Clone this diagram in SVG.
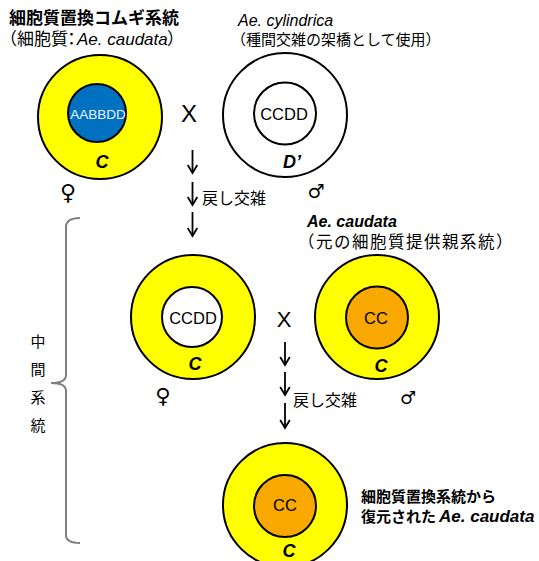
<svg xmlns="http://www.w3.org/2000/svg" width="539" height="561" viewBox="0 0 539 561">
<defs>
<style>
.bg{fill:#ffffff}
.outer{stroke:#000;stroke-width:2}
.y{fill:#ffff00}
.w{fill:#ffffff}
.blue{fill:#0070c0}
.org{fill:#f9a800}
.inner{stroke:#000;stroke-width:2}
.jp{font-family:"Noto Sans CJK JP","Liberation Sans",sans-serif;fill:#000}
.lat{font-family:"Liberation Sans","Noto Sans CJK JP",sans-serif;fill:#000}
.it{font-style:italic}
.b{font-weight:bold}
.geno{font-family:"Liberation Sans",sans-serif;font-size:16.5px;text-anchor:middle;fill:#000}
.cyto{font-family:"Liberation Sans",sans-serif;font-size:18px;font-style:italic;font-weight:bold;text-anchor:middle;fill:#000}
.sex{font-family:"DejaVu Sans",sans-serif;font-weight:bold;text-anchor:middle;fill:#000}
.cross{font-family:"Liberation Sans",sans-serif;text-anchor:middle;fill:#000}
.arrow{stroke:#000;stroke-width:1.8;fill:none}
.brace{stroke:#808080;stroke-width:2;fill:none}
</style>
<marker id="ah" markerUnits="userSpaceOnUse" markerWidth="12" markerHeight="12" viewBox="-9 -6 11 12" refX="0" refY="0" orient="auto">
<path d="M-8,-4.8 L0,0 L-8,4.8" fill="none" stroke="#000" stroke-width="1.8"/>
</marker>
</defs>
<rect class="bg" x="0" y="0" width="539" height="561"/>

<g id="title-left">
<text class="jp b" x="9" y="24" font-size="17">細胞質置換コムギ系統</text>
<text class="jp" y="45" font-size="17"><tspan x="0">（細胞質</tspan><tspan x="63">：</tspan><tspan class="lat it" x="77">Ae. caudata</tspan><tspan x="167">）</tspan></text>
</g>

<g id="title-right">
<text class="lat it" x="238" y="26" font-size="16">Ae. cylindrica</text>
<text class="jp" x="231" y="45" font-size="15">（種間交雑の架橋として使用）</text>
</g>

<g id="node-wheat">
<circle class="outer y" cx="100" cy="117" r="62"/>
<circle class="inner blue" cx="97" cy="113" r="29"/>
<text x="98" y="119" font-family="Liberation Sans,sans-serif" font-size="13.5" fill="#eaf4ff" text-anchor="middle">AABBDD</text>
<text class="cyto" x="102" y="167.5">C</text>
<text class="sex" x="68" y="200" font-size="22">♀</text>
</g>

<g id="cross-1">
<text class="cross" x="189" y="122" font-size="24">X</text>
</g>

<g id="node-cylindrica">
<circle class="outer w" cx="285" cy="115" r="62"/>
<circle class="inner w" cx="285" cy="113.5" r="31"/>
<text class="geno" x="284" y="119.5">CCDD</text>
<text class="cyto" x="292" y="168">D’</text>
<text class="sex" x="316" y="198" font-size="19">♂</text>
</g>

<g id="label-caudata">
<text class="lat it b" x="307" y="227" font-size="16">Ae. caudata</text>
<text class="jp" x="298" y="248" font-size="16.5" letter-spacing="1.5">（元の細胞質提供親系統）</text>
</g>

<g id="node-intermediate">
<circle class="outer y" cx="193" cy="317" r="62"/>
<circle class="inner w" cx="192" cy="317" r="30"/>
<text class="geno" x="193" y="324">CCDD</text>
<text class="cyto" x="195" y="369.5">C</text>
<text class="sex" x="163" y="403" font-size="21">♀</text>
</g>

<g id="cross-2">
<text class="cross" x="284" y="327" font-size="22">X</text>
</g>

<g id="node-caudata">
<circle class="outer y" cx="377" cy="317" r="62"/>
<circle class="inner org" cx="377" cy="317.5" r="31"/>
<text class="geno" x="376" y="324" font-size="17">CC</text>
<text class="cyto" x="381" y="371.5">C</text>
<text class="sex" x="408" y="404" font-size="18">♂</text>
</g>

<g id="node-restored">
<circle class="outer y" cx="285" cy="505" r="62"/>
<circle class="inner org" cx="285" cy="506" r="31"/>
<text class="geno" x="285" y="511" font-size="17">CC</text>
<text class="cyto" x="289" y="557">C</text>
</g>

<g id="label-restored">
<text class="jp b" x="361" y="502" font-size="15">細胞質置換系統から</text>
<text class="jp b" y="522" font-size="15"><tspan x="361">復元された</tspan><tspan class="lat it" x="439" font-size="17">Ae. caudata</tspan></text>
</g>

<g id="group-intermediate">
<path class="brace" d="M80,218 Q66,218 66,227 L66,375 Q66,383 51,383 Q66,383 66,391 L66,535 Q66,543 80,543"/>
<text class="jp" x="38" y="346.5" font-size="15" text-anchor="middle" fill="#333">中</text>
<text class="jp" x="38" y="374.5" font-size="15" text-anchor="middle" fill="#333">間</text>
<text class="jp" x="38" y="402.5" font-size="15" text-anchor="middle" fill="#333">系</text>
<text class="jp" x="38" y="430.5" font-size="15" text-anchor="middle" fill="#333">統</text>
</g>

<g id="connectors">
<line class="arrow" x1="192.5" y1="150" x2="192.5" y2="173" marker-end="url(#ah)"/>
<line class="arrow" x1="192.5" y1="182" x2="192.5" y2="205" marker-end="url(#ah)"/>
<line class="arrow" x1="192.5" y1="212" x2="192.5" y2="236" marker-end="url(#ah)"/>
<text class="jp" x="202" y="204" font-size="16">戻し交雑</text>
<line class="arrow" x1="285" y1="342" x2="285" y2="365" marker-end="url(#ah)"/>
<line class="arrow" x1="285" y1="372" x2="285" y2="395" marker-end="url(#ah)"/>
<line class="arrow" x1="285" y1="403" x2="285" y2="428" marker-end="url(#ah)"/>
<text class="jp" x="293" y="406" font-size="16">戻し交雑</text>
</g>
</svg>
